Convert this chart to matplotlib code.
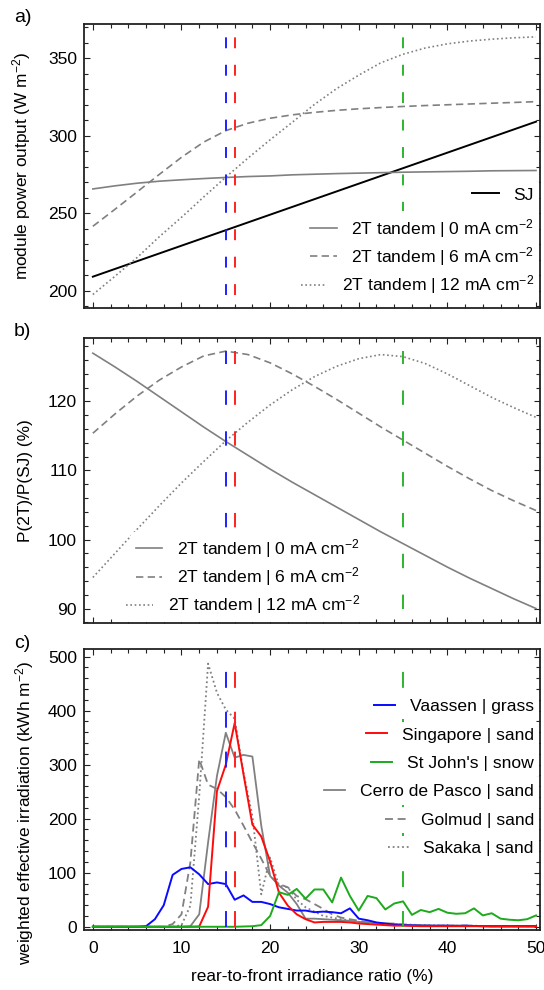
import matplotlib.pyplot as plt
from matplotlib.legend import Legend
from matplotlib.ticker import MultipleLocator

plt.rcParams['font.family'] = ['Liberation Sans', 'DejaVu Sans']
plt.rcParams['mathtext.fontset'] = 'custom'
plt.rcParams['mathtext.rm'] = 'Liberation Sans'
plt.rcParams['mathtext.default'] = 'regular'

# rear-to-front irradiance ratio grid for the module model (%)
ratio = [0, 2.5, 5, 7.5, 10, 12.5, 15, 17.5, 20, 22.5, 25,
         27.5, 30, 32.5, 35, 37.5, 40, 42.5, 45, 47.5, 50]

# module power output (W m-2)
p_sj = [209, 214, 219, 224, 229, 234, 239, 244, 249, 254, 259,
        264, 269, 274, 279, 284, 289, 294, 299, 304, 309]
p_0 = [265.6, 267.6, 269.3, 270.6, 271.5, 272.3, 273.0, 273.6, 274.0, 274.7, 275.1,
       275.5, 275.8, 276.1, 276.4, 276.6, 276.8, 277.0, 277.3, 277.4, 277.5]
p_6 = [241.5, 252.5, 263.7, 275.0, 286.0, 295.8, 303.2, 308.0, 311.2, 313.4, 315.0,
       316.3, 317.3, 318.1, 318.8, 319.4, 319.9, 320.4, 320.9, 321.4, 321.9]
p_12 = [197.5, 209.3, 221.4, 234.8, 247.3, 260.4, 273.2, 285.5, 297.3, 308.6, 320.1,
        330.3, 339.0, 347.0, 352.5, 356.5, 359.2, 361.0, 362.2, 363.1, 363.7]

# P(2T)/P(SJ) (%)
rel_0 = [127.0, 125.0, 122.9, 120.7, 118.5, 116.3, 114.2, 112.2, 110.2, 108.3, 106.5,
         104.7, 102.9, 101.1, 99.4, 97.7, 96.0, 94.4, 92.9, 91.4, 90.0]
rel_6 = [115.4, 118.2, 120.8, 123.1, 125.0, 126.6, 127.3, 126.8, 125.6, 124.0, 122.2,
         120.3, 118.3, 116.3, 114.4, 112.5, 110.6, 108.8, 107.1, 105.6, 104.2]
rel_12 = [94.5, 98.0, 101.5, 104.9, 108.2, 111.3, 114.3, 117.0, 119.5, 121.7, 123.6,
          125.1, 126.2, 126.8, 126.5, 125.5, 124.0, 122.3, 120.6, 119.1, 117.7]

# yearly weighted effective irradiation per 1 % ratio bin (kWh m-2)
bins = list(range(51))
vaassen = [0, 0, 0, 0, 0, 0, 1, 14, 40, 96, 107, 110, 97, 79, 82, 79, 50, 58, 46, 46,
           42, 36, 33, 30, 30, 27, 28, 27, 25, 34, 15, 12, 8, 6, 4, 3, 2.5, 2, 2, 2,
           2, 1.5, 2, 1.5, 1, 1, 1, 1, 1, 1, 1]
singapore = [0, 0, 0, 0, 0, 0, 0, 0, 0, 0, 0, 0, 0.5, 37, 251, 300, 377, 282, 189, 167,
             121, 63, 39, 23, 14, 8, 9, 9, 9, 8, 6, 5, 4, 3, 2, 2, 1.5, 1, 1, 1,
             1, 1, 1, 1, 1, 0.5, 0.5, 0.5, 0.5, 0.5, 0.5]
st_johns = [0, 0, 0, 0, 0, 0, 0, 0, 0, 0, 0, 0, 0, 0, 0, 0, 0, 0.5, 1, 3,
            20, 64, 59, 70, 52, 69, 69, 45, 91, 57, 30, 57, 53, 32, 43, 47, 22, 31, 27, 33,
            26, 24, 25, 34, 21, 25, 15, 13, 12, 14, 21]
cerro = [0, 0, 0, 0, 0, 0, 0, 0, 0, 0, 0, 1, 23, 156, 279, 359, 313, 318, 315, 187,
         94, 76, 63, 42, 15, 15, 14, 13, 12, 11, 9, 8, 7, 6, 5, 4, 3, 3, 2, 2,
         2, 2, 2, 1.5, 1.5, 1, 1, 1, 1, 1, 1]
golmud = [0, 0, 0, 0, 0, 0, 0, 0, 0, 5, 23, 119, 310, 263, 255, 240, 217, 187, 156, 126,
          94, 79, 73, 57, 51, 42, 33, 23, 17, 14, 11, 8, 6, 6, 6, 4, 3, 3, 2, 2,
          2, 2, 2, 1.5, 1.5, 1, 1, 1, 1, 1, 1]
sakaka = [0, 0, 0, 0, 0, 0, 0, 0, 0, 0, 3, 39, 242, 487, 433, 402, 385, 285, 205, 60,
          128, 76, 73, 50, 36, 28, 20, 17, 14, 12, 9, 8, 6, 5, 5, 4, 4, 3, 3, 2,
          2, 2, 2, 2, 1.5, 1.5, 1, 1, 1, 1, 1]

# optimum ratio markers (%)
marker_x = [15, 16, 35]
marker_colors = ['#2020ff', '#ff2020', '#2db52d']

GRAY = '#808080'
TICK_FS = 12.6
LEG_FS = 12.6
LAB_FS = 12.4
dashed = (0, (4.4, 2.6))
dotted = (0, (1.0, 1.6))

fig = plt.figure(figsize=(5.44, 9.9), dpi=100)
left, width = 84 / 544, 456 / 544
ax_a = fig.add_axes([left, 1 - 308 / 990, width, 284 / 990])
ax_b = fig.add_axes([left, 1 - 623 / 990, width, 285 / 990])
ax_c = fig.add_axes([left, 1 - 930 / 990, width, 281 / 990])


def style_axes(ax, ymajor, yminor):
    ax.set_xlim(-1.0, 50.45)
    ax.xaxis.set_major_locator(MultipleLocator(10))
    ax.xaxis.set_minor_locator(MultipleLocator(2))
    ax.yaxis.set_major_locator(MultipleLocator(ymajor))
    ax.yaxis.set_minor_locator(MultipleLocator(yminor))
    ax.tick_params(which='both', direction='in', top=True, right=True,
                   width=0.8, color='#222222', labelsize=TICK_FS)
    ax.tick_params(which='major', length=4)
    ax.tick_params(which='minor', length=2.6)
    ax.tick_params(axis='y', pad=5)
    ax.tick_params(axis='x', pad=8)
    for s in ax.spines.values():
        s.set_linewidth(1.3)
        s.set_color('#222222')


def row_legend(ax, handle, label, x, y, hl):
    leg = Legend(ax, [handle], [label], loc='center right',
                 bbox_to_anchor=(x, y), bbox_transform=ax.transAxes,
                 frameon=True, fancybox=False, framealpha=1,
                 facecolor='white', edgecolor='none', borderpad=0.3,
                 borderaxespad=0, handlelength=hl, handletextpad=0.85,
                 fontsize=LEG_FS)
    leg.set_zorder(6)
    ax.add_artist(leg)


def marker_lines(ax, ymin, ymax, dashes):
    for x, c in zip(marker_x, marker_colors):
        ax.plot([x, x], [ymin, ymax], color=c, lw=1.4,
                ls=(0, dashes), zorder=4)


# a) module power output
l_sj, = ax_a.plot(ratio, p_sj, color='black', lw=1.4)
l_a0, = ax_a.plot(ratio, p_0, color=GRAY, lw=1.2)
l_a6, = ax_a.plot(ratio, p_6, color=GRAY, lw=1.2, ls=dashed)
l_a12, = ax_a.plot(ratio, p_12, color=GRAY, lw=1.2, ls=dotted)
marker_lines(ax_a, min(p_12), max(p_12), (5.6, 8.5))
style_axes(ax_a, 50, 10)
ax_a.set_ylim(188.8, 372)
ax_a.tick_params(axis='x', labelbottom=False)
ax_a.set_ylabel('module power output (W m$^{-2}$)', fontsize=LAB_FS)
ax_a.yaxis.set_label_coords(-0.111, 0.5)

cm = ' mA cm$^{-2}$'
row_legend(ax_a, l_sj, 'SJ', 0.998, 0.398, 1.5)
row_legend(ax_a, l_a0, '2T tandem | 0' + cm, 0.998, 0.281, 1.5)
row_legend(ax_a, l_a6, '2T tandem | 6' + cm, 0.998, 0.181, 1.5)
row_legend(ax_a, l_a12, '2T tandem | 12' + cm, 0.998, 0.081, 1.5)

# b) relative power of the tandem vs single junction
l_b0, = ax_b.plot(ratio, rel_0, color=GRAY, lw=1.2)
l_b6, = ax_b.plot(ratio, rel_6, color=GRAY, lw=1.2, ls=dashed)
l_b12, = ax_b.plot(ratio, rel_12, color=GRAY, lw=1.2, ls=dotted)
marker_lines(ax_b, min(rel_0), max(rel_6), (7.4, 13.6))
style_axes(ax_b, 10, 2)
ax_b.set_ylim(87.9, 129.2)
ax_b.tick_params(axis='x', labelbottom=False)
ax_b.set_ylabel('P(2T)/P(SJ) (%)', fontsize=LAB_FS)
ax_b.yaxis.set_label_coords(-0.111, 0.5)

row_legend(ax_b, l_b0, '2T tandem | 0' + cm, 0.616, 0.262, 1.5)
row_legend(ax_b, l_b6, '2T tandem | 6' + cm, 0.616, 0.162, 1.5)
row_legend(ax_b, l_b12, '2T tandem | 12' + cm, 0.616, 0.063, 1.5)

# c) irradiation distributions per site
l_ce, = ax_c.plot(bins, cerro, color=GRAY, lw=1.3)
l_go, = ax_c.plot(bins, golmud, color=GRAY, lw=1.3, ls=dashed)
l_sa, = ax_c.plot(bins, sakaka, color=GRAY, lw=1.3, ls=dotted)
l_va, = ax_c.plot(bins, vaassen, color='#0a0aff', lw=1.4)
l_si, = ax_c.plot(bins, singapore, color='#ff0a0a', lw=1.4)
l_sj2, = ax_c.plot(bins, st_johns, color='#1daa1d', lw=1.4)
marker_lines(ax_c, 0, 515, (8.2, 12.3))
style_axes(ax_c, 100, 20)
ax_c.set_ylim(-6, 514)
ax_c.set_ylabel('weighted effective irradiation (kWh m$^{-2}$)', fontsize=LAB_FS)
ax_c.yaxis.set_label_coords(-0.106, 0.415)
ax_c.set_xlabel('rear-to-front irradiance ratio (%)', fontsize=LAB_FS, labelpad=9)

rows_c = [(l_va, 'Vaassen | grass'), (l_si, 'Singapore | sand'),
          (l_sj2, "St John's | snow"), (l_ce, 'Cerro de Pasco | sand'),
          (l_go, 'Golmud | sand'), (l_sa, 'Sakaka | sand')]
for i, (h, lab) in enumerate(rows_c):
    row_legend(ax_c, h, lab, 0.998, 0.795 - 0.101 * i, 1.2)

for y, lab in [(18, 'a)'), (331, 'b)'), (643, 'c)')]:
    fig.text(14 / 544, 1 - y / 990, lab, fontsize=14, va='center', ha='left')

fig.savefig('out.png', dpi=100)
